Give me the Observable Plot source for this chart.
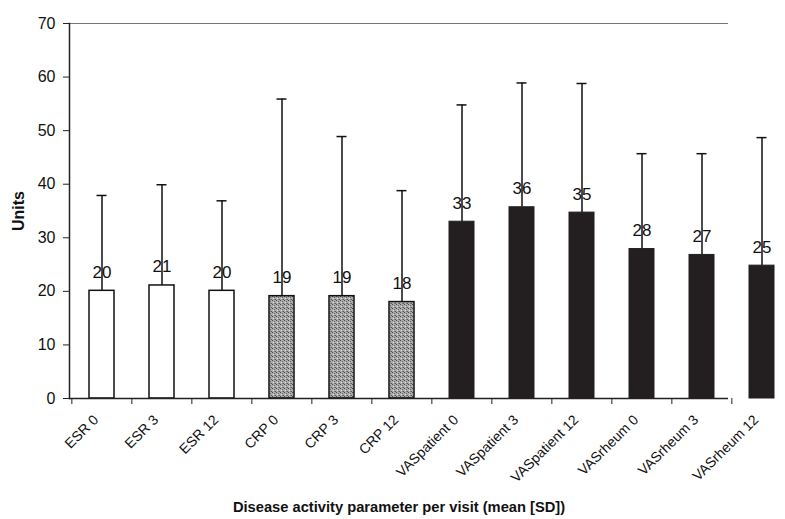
<!DOCTYPE html>
<html>
<head>
<meta charset="utf-8">
<script src="https://cdn.jsdelivr.net/npm/d3@7"></script>
<script src="https://cdn.jsdelivr.net/npm/@observablehq/plot@0.6"></script>
<style>
  html, body { margin: 0; padding: 0; background: #fff; overflow: hidden; }
  #chart svg { display: block; }
</style>
</head>
<body>
<svg width="0" height="0" style="position:absolute">
  <defs>
    <pattern id="stipple" width="4" height="4" patternUnits="userSpaceOnUse">
      <rect width="4" height="4" fill="#ababab"/>
      <rect x="0" y="0" width="1" height="1" fill="#4a4a4a"/>
      <rect x="2" y="1" width="1" height="1" fill="#666"/>
      <rect x="1" y="2" width="1" height="1" fill="#dcdcdc"/>
      <rect x="3" y="3" width="1" height="1" fill="#5a5a5a"/>
      <rect x="2" y="3" width="1" height="1" fill="#808080"/>
    </pattern>
  </defs>
</svg>
<div id="chart"></div>
<script>
const categories = ["ESR 0","ESR 3","ESR 12","CRP 0","CRP 3","CRP 12","VASpatient 0","VASpatient 3","VASpatient 12","VASrheum 0","VASrheum 3","VASrheum 12"];
const groups = ["ESR","ESR","ESR","CRP","CRP","CRP","VASpatient","VASpatient","VASpatient","VASrheum","VASrheum","VASrheum"];
const means = [20.1, 21.1, 20.1, 19.1, 19.1, 18.0, 33.0, 35.7, 34.7, 27.9, 26.8, 24.8];
const sds = [17.8, 18.8, 16.8, 36.8, 29.8, 20.8, 21.8, 23.2, 24.1, 17.8, 18.9, 23.9];
const valueLabels = ["20","21","20","19","19","18","33","36","35","28","27","25"];
const yTicks = [0, 10, 20, 30, 40, 50, 60, 70];
const xTitle = "Disease activity parameter per visit (mean [SD])";
const yTitle = "Units";

const data = categories.map((c, i) => ({cat: c, group: groups[i], mean: means[i], top: means[i] + sds[i], label: valueLabels[i]}));

const font = "Liberation Sans, Arial, Helvetica, sans-serif";
const xRange = [69.3, 793];
const step = (xRange[1] - xRange[0]) / categories.length;

const chart = Plot.plot({
  width: 785,
  height: 519,
  marginTop: 23,
  marginBottom: 121,
  marginLeft: 69,
  marginRight: 57,
  style: {fontFamily: font, color: "#111", background: "#fff"},
  x: {domain: categories, range: xRange, paddingInner: 0.585, paddingOuter: 0.2925},
  y: {domain: [0, 70], ticks: yTicks},
  marks: [
    Plot.ruleY([70], {stroke: "#777", strokeWidth: 1.2}),
    Plot.ruleX(data, {x: "cat", y1: "mean", y2: "top", stroke: "#111", strokeWidth: 1.5}),
    Plot.tickY(data, {x: "cat", y: "top", stroke: "#111", strokeWidth: 1.5, insetLeft: 7.5, insetRight: 7.5}),
    Plot.barY(data.filter(d => d.group === "ESR"), {x: "cat", y: "mean", fill: "#fff", stroke: "#111", strokeWidth: 1.5}),
    Plot.barY(data.filter(d => d.group === "CRP"), {x: "cat", y: "mean", fill: "url(#stipple)", stroke: "#111", strokeWidth: 1.5}),
    Plot.barY(data.filter(d => d.group.startsWith("VAS")), {x: "cat", y: "mean", fill: "#231f20", stroke: "#231f20", strokeWidth: 1}),
    Plot.text(data, {x: "cat", y: "mean", text: "label", dy: -13, lineAnchor: "bottom", fontSize: 17, fill: "#111"}),
    Plot.ruleY([0], {stroke: "#222", strokeWidth: 1.5}),
    Plot.frame({anchor: "left", stroke: "#222", strokeWidth: 1.5}),
    Plot.axisY({ticks: yTicks, tickSize: 6, tickPadding: 8, fontSize: 16, label: null, stroke: "#222"}),
    Plot.axisX({tickSize: 6, tickFormat: () => "", label: null, dx: -step / 2, stroke: "#222"}),
    Plot.axisX({tickSize: 0, tickRotate: -45, tickPadding: 19, fontSize: 14, label: null, dx: -6}),
    Plot.text([xTitle], {frameAnchor: "bottom", dy: 109, lineAnchor: "middle", fontSize: 14.7, fontWeight: "bold", fill: "#111"}),
    Plot.text([yTitle], {frameAnchor: "left", dx: -51, rotate: -90, lineAnchor: "middle", textAnchor: "middle", fontSize: 16, fontWeight: "bold", fill: "#111"})
  ]
});
document.getElementById("chart").appendChild(chart);
</script>
</body>
</html>
